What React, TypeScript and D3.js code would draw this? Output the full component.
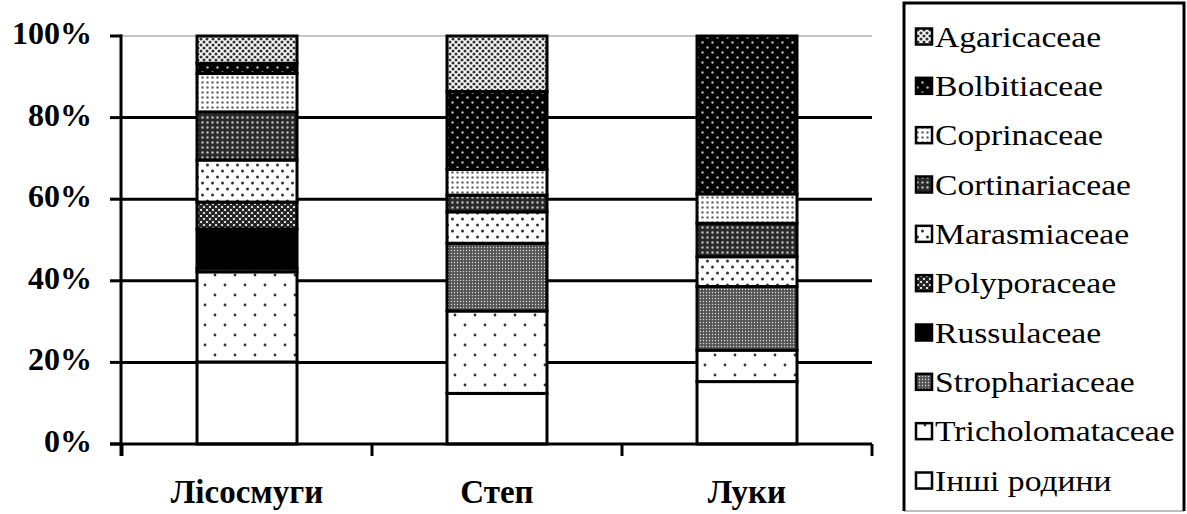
import React from "react";
import * as d3 from "d3";

// Habitat categories along the x axis
const categories = ["Лісосмуги", "Степ", "Луки"];

// Share of each family (%) per habitat, stacked bottom → top
const inshiRodyny = [20.1, 12.4, 15.3];
const tricholomataceae = [22.1, 20.2, 7.7];
const strophariaceae = [0.9, 16.6, 15.6];
const russulaceae = [9.6, 0, 0];
const polyporaceae = [6.6, 0, 0];
const marasmiaceae = [10.3, 7.7, 7.3];
const cortinariaceae = [11.8, 4.1, 8.2];
const coprinaceae = [9.4, 6.3, 7.2];
const bolbitiaceae = [2.5, 19.1, 38.7];
const agaricaceae = [6.7, 13.6, 0];

const seriesNames = [
  "Інші родини",
  "Tricholomataceae",
  "Strophariaceae",
  "Russulaceae",
  "Polyporaceae",
  "Marasmiaceae",
  "Cortinariaceae",
  "Coprinaceae",
  "Bolbitiaceae",
  "Agaricaceae",
];
const seriesValues = [
  inshiRodyny,
  tricholomataceae,
  strophariaceae,
  russulaceae,
  polyporaceae,
  marasmiaceae,
  cortinariaceae,
  coprinaceae,
  bolbitiaceae,
  agaricaceae,
];

const yTicks = [0, 20, 40, 60, 80, 100];

const W = 1187;
const H = 514;
const serif = { fontFamily: "'Liberation Serif', 'Times New Roman', serif" };

// Monochrome fill patterns, one per family
function Patterns() {
  return (
    <defs>
      {/* Інші родини: plain white */}
      <pattern id="p0" width="4" height="4" patternUnits="userSpaceOnUse">
        <rect width="4" height="4" fill="#fff" />
      </pattern>
      {/* Tricholomataceae: sparse dots */}
      <pattern id="p1" width="20" height="20" patternUnits="userSpaceOnUse">
        <rect width="20" height="20" fill="#fff" />
        <circle cx="5" cy="5" r="1.4" fill="#333" />
        <circle cx="15" cy="15" r="1.4" fill="#333" />
      </pattern>
      {/* Strophariaceae: fine dark grey */}
      <pattern id="p2" width="3" height="3" patternUnits="userSpaceOnUse">
        <rect width="3" height="3" fill="#555" />
        <circle cx="1.5" cy="1.5" r="0.7" fill="#ddd" />
      </pattern>
      {/* Russulaceae: solid black */}
      <pattern id="p3" width="4" height="4" patternUnits="userSpaceOnUse">
        <rect width="4" height="4" fill="#000" />
      </pattern>
      {/* Polyporaceae: dark cross-hatch */}
      <pattern id="p4" width="6" height="6" patternUnits="userSpaceOnUse">
        <rect width="6" height="6" fill="#fff" />
        <circle cx="0" cy="0" r="2.2" fill="#222" />
        <circle cx="6" cy="0" r="2.2" fill="#222" />
        <circle cx="0" cy="6" r="2.2" fill="#222" />
        <circle cx="6" cy="6" r="2.2" fill="#222" />
        <circle cx="3" cy="3" r="2.2" fill="#222" />
      </pattern>
      {/* Marasmiaceae: medium dots */}
      <pattern id="p5" width="10" height="12" patternUnits="userSpaceOnUse">
        <rect width="10" height="12" fill="#fff" />
        <circle cx="2.5" cy="3" r="1.5" fill="#333" />
        <circle cx="7.5" cy="9" r="1.5" fill="#333" />
      </pattern>
      {/* Cortinariaceae: dark with light dots */}
      <pattern id="p6" width="5" height="5" patternUnits="userSpaceOnUse">
        <rect width="5" height="5" fill="#2a2a2a" />
        <circle cx="2.5" cy="2.5" r="1.2" fill="#bbb" />
      </pattern>
      {/* Coprinaceae: light dotted grid */}
      <pattern id="p7" width="5" height="5" patternUnits="userSpaceOnUse">
        <rect width="5" height="5" fill="#fff" />
        <circle cx="2.5" cy="2.5" r="1.2" fill="#666" />
      </pattern>
      {/* Bolbitiaceae: black with pale dots */}
      <pattern id="p8" width="10" height="10" patternUnits="userSpaceOnUse">
        <rect width="10" height="10" fill="#000" />
        <circle cx="2.5" cy="2.5" r="1.2" fill="#bbb" />
        <circle cx="7.5" cy="7.5" r="1.2" fill="#bbb" />
      </pattern>
      {/* Agaricaceae: light cross-hatch */}
      <pattern id="p9" width="6" height="6" patternUnits="userSpaceOnUse">
        <rect width="6" height="6" fill="#fff" />
        <circle cx="0" cy="0" r="1.6" fill="#333" />
        <circle cx="6" cy="0" r="1.6" fill="#333" />
        <circle cx="0" cy="6" r="1.6" fill="#333" />
        <circle cx="6" cy="6" r="1.6" fill="#333" />
        <circle cx="3" cy="3" r="1.6" fill="#333" />
      </pattern>
    </defs>
  );
}

export default function App() {
  const plotLeft = 122;
  const plotRight = 872;
  const plotTop = 36;
  const plotBottom = 444;

  const x = d3
    .scaleBand<string>()
    .domain(categories)
    .range([plotLeft, plotRight])
    .paddingInner(0.6)
    .paddingOuter(0.3);

  const y = d3.scaleLinear().domain([0, 100]).range([plotBottom, plotTop]);

  const rows = categories.map((c, ci) => {
    const row: Record<string, any> = { category: c };
    seriesNames.forEach((n, si) => {
      row[n] = seriesValues[si][ci];
    });
    return row;
  });

  const stacked = d3.stack<any>().keys(seriesNames)(rows);

  const step = x.step();
  const boundaries = [0, 1, 2, 3].map((i) => plotLeft + i * step);

  const legendLeft = 904;
  const legendRight = 1184;
  const legendTop = 3;
  const legendBottom = 511;
  const legendRowY = d3
    .scaleLinear()
    .domain([0, seriesNames.length - 1])
    .range([37, 481]);
  const legendItems = [...seriesNames].map((n, i) => ({ n, i })).reverse();

  return (
    <svg
      width={W}
      height={H}
      style={{ position: "fixed", left: 0, top: 0, background: "#fff" }}
    >
      <Patterns />
      <rect width={W} height={H} fill="#fff" />

      {/* top gridline (thin grey) */}
      <line
        x1={plotLeft}
        x2={plotRight}
        y1={y(100)}
        y2={y(100)}
        stroke="#b0b0b0"
        strokeWidth={1.5}
      />
      {/* major gridlines */}
      {yTicks
        .filter((t) => t > 0 && t < 100)
        .map((t) => (
          <line
            key={"g" + t}
            x1={plotLeft}
            x2={plotRight}
            y1={y(t)}
            y2={y(t)}
            stroke="#000"
            strokeWidth={3}
          />
        ))}

      {/* stacked bars */}
      {stacked.map((layer, si) =>
        layer.map((d, ci) => {
          const h = y(d[0]) - y(d[1]);
          if (h <= 0) return null;
          return (
            <rect
              key={si + "-" + ci}
              x={x(categories[ci])}
              y={y(d[1])}
              width={x.bandwidth()}
              height={h}
              fill={`url(#p${si})`}
              stroke="#000"
              strokeWidth={3}
            />
          );
        })
      )}

      {/* y axis */}
      <line
        x1={plotLeft - 1}
        x2={plotLeft - 1}
        y1={plotTop - 1.5}
        y2={plotBottom + 12}
        stroke="#000"
        strokeWidth={3}
      />
      {yTicks.map((t) => (
        <g key={"yt" + t}>
          <line
            x1={plotLeft - 12}
            x2={plotLeft}
            y1={y(t)}
            y2={y(t)}
            stroke="#000"
            strokeWidth={3}
          />
          <text
            x={92}
            y={y(t) + 8}
            textAnchor="end"
            style={serif}
            fontSize={32}
            fontWeight="bold"
            fill="#000"
          >
            {t + "%"}
          </text>
        </g>
      ))}

      {/* x axis */}
      <line
        x1={plotLeft - 12}
        x2={plotRight}
        y1={plotBottom}
        y2={plotBottom}
        stroke="#000"
        strokeWidth={3}
      />
      {boundaries.map((bx, i) => (
        <line
          key={"xt" + i}
          x1={bx}
          x2={bx}
          y1={plotBottom}
          y2={plotBottom + 12}
          stroke="#000"
          strokeWidth={3}
        />
      ))}
      {categories.map((c) => (
        <text
          key={"xl" + c}
          x={(x(c) as number) + x.bandwidth() / 2}
          y={503}
          textAnchor="middle"
          style={serif}
          fontSize={33}
          fontWeight="bold"
          fill="#000"
        >
          {c}
        </text>
      ))}

      {/* legend frame: black on three sides, thin grey at the bottom */}
      <line
        x1={legendLeft}
        x2={legendRight}
        y1={legendBottom}
        y2={legendBottom}
        stroke="#aaa"
        strokeWidth={1.5}
      />
      <path
        d={`M${legendLeft},${legendBottom} V${legendTop} H${legendRight} V${legendBottom}`}
        fill="none"
        stroke="#000"
        strokeWidth={3}
      />
      {legendItems.map(({ n, i }, k) => {
        const cy = legendRowY(k);
        return (
          <g key={"lg" + n}>
            <rect
              x={916}
              y={cy - 8.5}
              width={16}
              height={16}
              fill={`url(#p${i})`}
              stroke="#000"
              strokeWidth={2.5}
            />
            <text
              transform={`translate(935,${cy + 9.5}) scale(1.16,1)`}
              style={serif}
              fontSize={29}
              fill="#000"
            >
              {n}
            </text>
          </g>
        );
      })}
    </svg>
  );
}
